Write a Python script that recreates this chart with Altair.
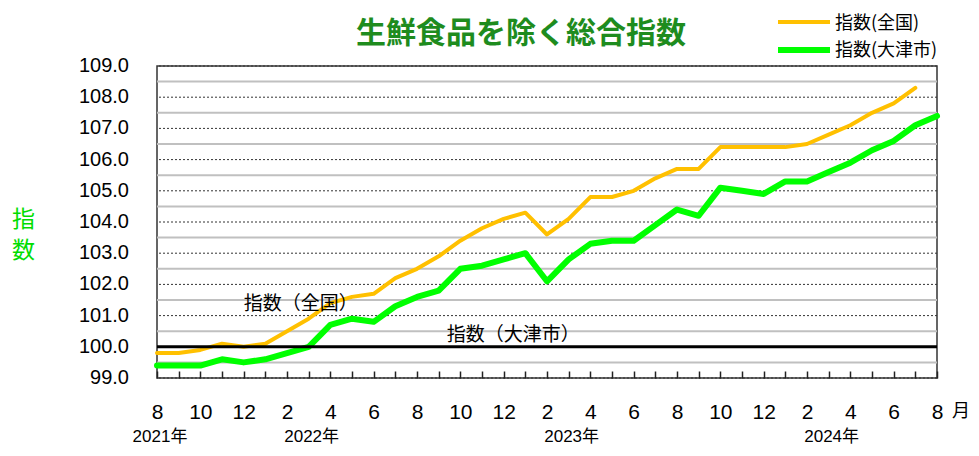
import altair as alt
import pandas as pd

# ---------------- data ----------------
months = [
    "2021-08", "2021-09", "2021-10", "2021-11", "2021-12",
    "2022-01", "2022-02", "2022-03", "2022-04", "2022-05", "2022-06",
    "2022-07", "2022-08", "2022-09", "2022-10", "2022-11", "2022-12",
    "2023-01", "2023-02", "2023-03", "2023-04", "2023-05", "2023-06",
    "2023-07", "2023-08", "2023-09", "2023-10", "2023-11", "2023-12",
    "2024-01", "2024-02", "2024-03", "2024-04", "2024-05", "2024-06",
    "2024-07", "2024-08",
]
month_labels = [
    "8", "", "10", "", "12",
    "", "2", "", "4", "", "6",
    "", "8", "", "10", "", "12",
    "", "2", "", "4", "", "6",
    "", "8", "", "10", "", "12",
    "", "2", "", "4", "", "6",
    "", "8",
]

# 指数(全国)  Aug 2021 - Jul 2024
national = [
    99.8, 99.8, 99.9, 100.1, 100.0,
    100.1, 100.5, 100.9, 101.4, 101.6, 101.7,
    102.2, 102.5, 102.9, 103.4, 103.8, 104.1,
    104.3, 103.6, 104.1, 104.8, 104.8, 105.0,
    105.4, 105.7, 105.7, 106.4, 106.4, 106.4,
    106.4, 106.5, 106.8, 107.1, 107.5, 107.8,
    108.3,
]

# 指数(大津市)  Aug 2021 - Aug 2024
otsu = [
    99.4, 99.4, 99.4, 99.6, 99.5,
    99.6, 99.8, 100.0, 100.7, 100.9, 100.8,
    101.3, 101.6, 101.8, 102.5, 102.6, 102.8,
    103.0, 102.1, 102.8, 103.3, 103.4, 103.4,
    103.9, 104.4, 104.2, 105.1, 105.0, 104.9,
    105.3, 105.3, 105.6, 105.9, 106.3, 106.6,
    107.1, 107.4,
]

series_names = ["指数(全国)", "指数(大津市)"]
series_colors = ["#FFC000", "#00FF00"]
series_widths = [4, 6]

base_value = [100.0]
y_ticks = [99.0, 100.0, 101.0, 102.0, 103.0, 104.0, 105.0, 106.0, 107.0, 108.0, 109.0]
y_tick_labels = ["99.0", "100.0", "101.0", "102.0", "103.0", "104.0",
                 "105.0", "106.0", "107.0", "108.0", "109.0"]
y_half = [99.5, 100.5, 101.5, 102.5, 103.5, 104.5, 105.5, 106.5, 107.5, 108.5]

year_labels = ["2021年", "2022年", "2023年", "2024年"]
year_anchor = ["2021-08", "2022-03", "2023-03", "2024-03"]

title_text = "生鮮食品を除く総合指数"
ann_national = {"text": ["指数（全国）"], "month": ["2021-12"], "value": [101.37]}
ann_otsu = {"text": ["指数（大津市）"], "month": ["2022-09"], "value": [100.38]}

# ---------------- build ----------------
rows = []
for m, v in zip(months, national):
    rows.append({"month": m, "series": series_names[0], "value": v})
for m, v in zip(months, otsu):
    rows.append({"month": m, "series": series_names[1], "value": v})
df = pd.DataFrame(rows)

W, H = 780, 312
JP = "Noto Sans CJK JP"
NUM = "Liberation Sans"

xscale = alt.Scale(type="point", padding=0, domain=months)
yscale = alt.Scale(domain=[99, 109], nice=False, zero=False)

label_map = "{" + ", ".join(f"'{m}': '{l}'" for m, l in zip(months, month_labels)) + "}"

# bottom axis shifted 7px into the plot so that its ticks point inward
x_axis = alt.Axis(
    title=None, grid=False, domain=False, labelAngle=0,
    ticks=True, tickSize=7, tickColor="#222222", tickWidth=1.5, offset=-7,
    labelExpr=f"{label_map}[datum.value]",
    labelFont=NUM, labelFontSize=21, labelColor="#000000",
    labelPadding=34, labelBaseline="middle", labelOverlap=False, labelFlush=False,
    zindex=1,
)

y_axis = alt.Axis(
    values=y_ticks, ticks=False, domain=False, grid=False, labels=False,
    title=["指", "数"], titleAngle=0, titleX=-134, titleY=142,
    titleAlign="center", titleBaseline="top", titleFontSize=23,
    titleColor="#00DD00", titleFont=JP, titleFontWeight="normal", titleLineHeight=31,
)

grid_int = alt.Chart(pd.DataFrame({"v": y_ticks})).mark_rule(
    color="#333333", strokeWidth=1, strokeDash=[2, 2]
).encode(y=alt.Y("v:Q", scale=yscale, axis=y_axis))
grid_half = alt.Chart(pd.DataFrame({"v": y_half})).mark_rule(color="#c0c0c0", strokeWidth=2).encode(
    y=alt.Y("v:Q", scale=yscale)
)

y_labels = alt.Chart(pd.DataFrame({"v": y_ticks, "t": y_tick_labels})).mark_text(
    font=NUM, fontSize=20, color="#000000", align="right", baseline="middle"
).encode(x=alt.value(-28), y=alt.Y("v:Q", scale=yscale), text="t:N")

lines = alt.Chart(df).mark_line(strokeJoin="round", strokeCap="round").encode(
    x=alt.X("month:O", sort=months, scale=xscale, axis=x_axis),
    y=alt.Y("value:Q", scale=yscale),
    color=alt.Color("series:N", scale=alt.Scale(domain=series_names, range=series_colors), legend=None),
    strokeWidth=alt.StrokeWidth("series:N", scale=alt.Scale(domain=series_names, range=series_widths), legend=None),
    detail="series:N",
)

base_rule = alt.Chart(pd.DataFrame({"v": base_value})).mark_rule(color="#000000", strokeWidth=3).encode(
    y=alt.Y("v:Q", scale=yscale)
)

ann1 = alt.Chart(pd.DataFrame(ann_national)).mark_text(
    font=JP, fontSize=19, color="#000000", align="left", baseline="middle"
).encode(
    x=alt.X("month:O", sort=months, scale=xscale),
    y=alt.Y("value:Q", scale=yscale),
    text="text:N",
)
ann2 = alt.Chart(pd.DataFrame(ann_otsu)).mark_text(
    font=JP, fontSize=19, color="#000000", align="left", baseline="middle", dx=8
).encode(
    x=alt.X("month:O", sort=months, scale=xscale),
    y=alt.Y("value:Q", scale=yscale),
    text="text:N",
)

years = alt.Chart(pd.DataFrame({"month": year_anchor, "t": year_labels})).mark_text(
    font=f"{NUM}, {JP}", fontSize=17, color="#000000", align="center", baseline="middle", dx=3
).encode(
    x=alt.X("month:O", sort=months, scale=xscale),
    y=alt.value(371),
    text="t:N",
)

month_unit = alt.Chart(pd.DataFrame({"month": [months[-1]], "t": ["月"]})).mark_text(
    font=JP, fontSize=18, color="#000000", align="center", baseline="middle", dx=24
).encode(
    x=alt.X("month:O", sort=months, scale=xscale),
    y=alt.value(346),
    text="t:N",
)

title = alt.Chart(pd.DataFrame({"t": [title_text]})).mark_text(
    font=JP, fontSize=30, fontWeight="bold", color="#1E8C1E", align="center", baseline="middle"
).encode(x=alt.value(364), y=alt.value(-32), text="t:N")

leg_df = pd.DataFrame({"t": series_names})
leg_rule_1 = alt.Chart(leg_df.iloc[[0]]).mark_rule(color=series_colors[0], strokeWidth=4).encode(
    x=alt.value(621), x2=alt.value(673), y=alt.value(-44))
leg_rule_2 = alt.Chart(leg_df.iloc[[1]]).mark_rule(color=series_colors[1], strokeWidth=6).encode(
    x=alt.value(621), x2=alt.value(673), y=alt.value(-16))
leg_text_1 = alt.Chart(leg_df.iloc[[0]]).mark_text(
    font=JP, fontSize=18, color="#000000", align="left", baseline="middle").encode(
    x=alt.value(678), y=alt.value(-42), text="t:N")
leg_text_2 = alt.Chart(leg_df.iloc[[1]]).mark_text(
    font=JP, fontSize=18, color="#000000", align="left", baseline="middle").encode(
    x=alt.value(678), y=alt.value(-15), text="t:N")

chart = alt.layer(
    grid_int, grid_half, lines, base_rule, y_labels, ann1, ann2, years, month_unit, title,
    leg_rule_1, leg_rule_2, leg_text_1, leg_text_2,
).properties(
    width=W, height=H,
    autosize=alt.AutoSizeParams(type="none"),
    padding={"left": 149, "top": 58, "right": 34, "bottom": 70},
    background="#ffffff",
).configure_view(stroke="#333333", strokeWidth=1.5)

chart.save("out.html", embed_options={"renderer": "svg", "actions": False})
